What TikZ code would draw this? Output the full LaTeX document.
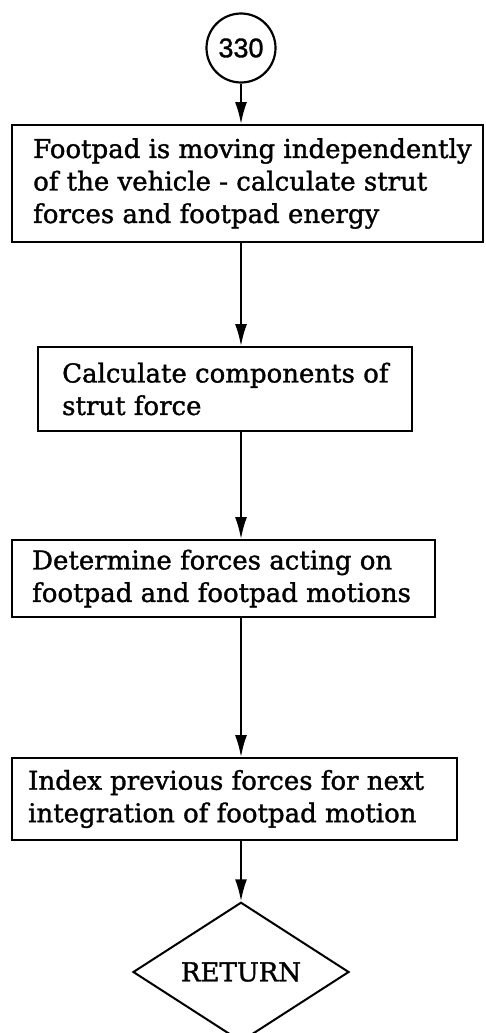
\documentclass[tikz,border=0pt]{standalone}
\usepackage{fontspec}
\setmainfont[FakeBold=1.3]{DejaVu Serif}
\newfontfamily\labelsans[FakeBold=1.2]{Liberation Sans}
\usetikzlibrary{arrows.meta,shapes.geometric}

\tikzset{
  stepbox/.style={draw, line width=1.9pt, rectangle, inner sep=0pt},
  boxtext/.style={anchor=west, align=left, inner sep=0pt,
    font=\fontsize{26}{32.5}\selectfont},
  flow/.style={line width=2pt, -{Latex[length=22pt,width=12pt]}},
  connector/.style={draw, circle, line width=2.2pt, minimum size=69pt, inner sep=0pt,
    font=\labelsans\fontsize{27}{27}\selectfont},
  exitmark/.style={draw, diamond, line width=2pt, inner sep=0pt,
    minimum width=216pt, minimum height=128pt, font=\fontsize{26}{30}\selectfont}
}

\begin{document}
\begin{tikzpicture}[x=1pt,y=-1pt]
  \useasboundingbox[fill=white] (0,0) rectangle (485,1033);

  % entry connector
  \node[connector] (c330) at (241,48) {330};

  % process boxes
  \node[stepbox, minimum width=471pt, minimum height=117pt] (b1) at (247.5,183.5) {};
  \node[boxtext] (t1) at (33,183.5) {Footpad is moving independently\\of the vehicle - calculate strut\\forces and footpad energy};

  \node[stepbox, minimum width=374pt, minimum height=84pt] (b2) at (225,389) {};
  \node[boxtext] (t2) at (62,389) {Calculate components of\\strut force};

  \node[stepbox, minimum width=423pt, minimum height=77pt] (b3) at (223.5,578.5) {};
  \node[boxtext] (t3) at (32,578.5) {Determine forces acting on\\footpad and footpad motions};

  \node[stepbox, minimum width=445pt, minimum height=82pt] (b4) at (234.5,799) {};
  \node[boxtext] (t4) at (28,799) {Index previous forces for next\\integration of footpad motion};

  % exit
  \node[exitmark] (ret) at (241,972) {RETURN};

  % flow lines
  \draw[flow] (c330.south) -- (b1.north -| c330.south);
  \draw[flow] (b1.south -| c330.south) -- (b2.north -| c330.south);
  \draw[flow] (b2.south -| c330.south) -- (b3.north -| c330.south);
  \draw[flow] (b3.south -| c330.south) -- (b4.north -| c330.south);
  \draw[flow] (b4.south -| c330.south) -- (ret.north);
\end{tikzpicture}
\end{document}
